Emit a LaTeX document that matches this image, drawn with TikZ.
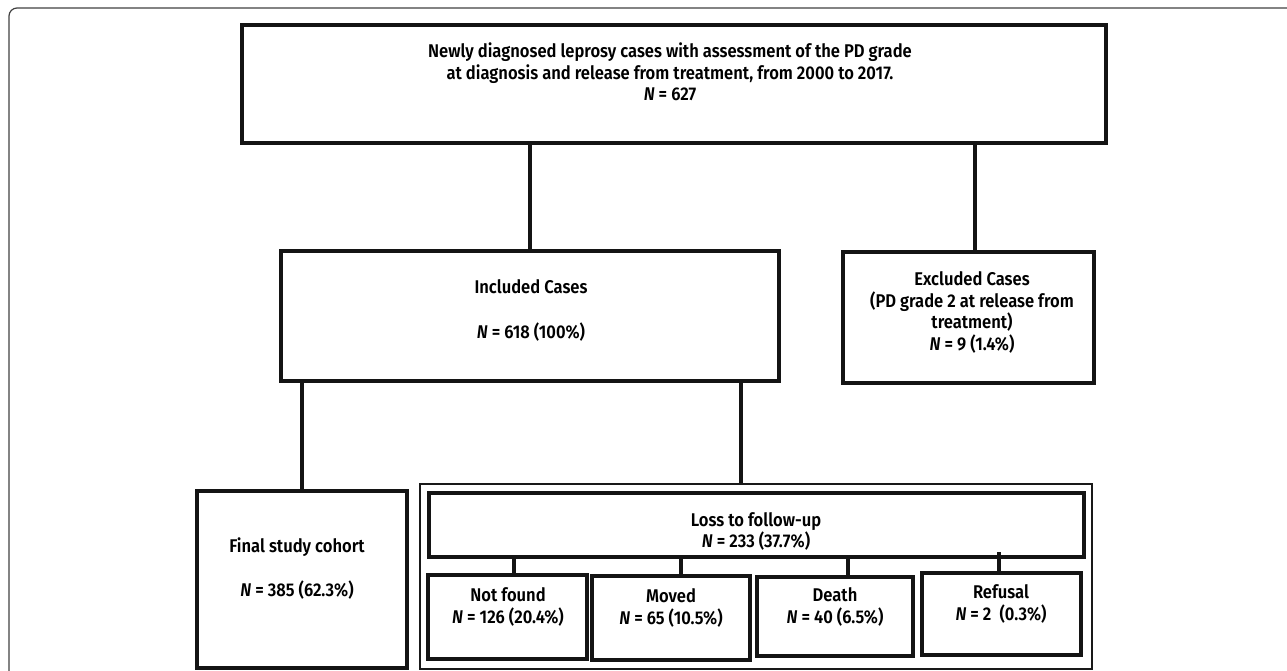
\documentclass[tikz,border=0pt]{standalone}
\usepackage{fontspec}
\setmainfont{Fira Sans}[UprightFont=* SemiBold, ItalicFont=* SemiBold Italic, BoldFont=* Bold, FakeStretch=0.9]
\begin{document}
\begin{tikzpicture}[x=1bp,y=-1bp]
\tikzset{
  box/.style={draw=black!92, line width=4bp, rectangle, inner sep=0pt},
  frame/.style={draw=black!90, line width=2.5bp, rectangle, inner sep=0pt},
  conn/.style={draw=black!92, line width=4bp},
  txt/.style={align=center, font=\fontsize{18.4bp}{21.6bp}\selectfont, inner sep=0pt}
}
\useasboundingbox (0,0) rectangle (1287,671);
\draw[black!75, line width=1.2bp, rounded corners=8bp] (9,671) -- (9,8) -- (1287,8);

% boxes
\node[box, minimum width=864bp, minimum height=118bp] (top) at (674,84) {};
\node[box, minimum width=498bp, minimum height=130bp] (incl) at (530,316) {};
\node[box, minimum width=251bp, minimum height=131bp] (excl) at (968.5,317.5) {};
\node[box, minimum width=210bp, minimum height=177bp] (final) at (302,579.5) {};
\node[frame, minimum width=672bp, minimum height=185bp] (ltfframe) at (756,576.5) {};
\node[box, minimum width=655bp, minimum height=64bp] (ltf) at (756.5,525) {};
\node[box, minimum width=159bp, minimum height=84bp] (nf) at (507.5,617) {};
\node[box, minimum width=158bp, minimum height=84bp] (mv) at (671,618) {};
\node[box, minimum width=156bp, minimum height=79bp] (de) at (835,616.5) {};
\node[box, minimum width=159bp, minimum height=82bp] (rf) at (1001.5,614) {};

% texts
\node[txt] (ttop) at (670,72) {Newly diagnosed leprosy cases with assessment of the PD grade\\at diagnosis and release from treatment, from 2000 to 2017.\\\textit{N} = 627};
\node[txt] (tincl1) at (531,287) {Included Cases};
\node[txt] (tincl2) at (531,332) {\textit{N} = 618 (100\%)};
\node[txt] (texcl) at (972,312.5) {Excluded Cases\\(PD grade 2 at release from\\treatment)\\\textit{N} = 9 (1.4\%)};
\node[txt] (tfinal1) at (297,547) {Final study cohort};
\node[txt] (tfinal2) at (297,590) {\textit{N} = 385 (62.3\%)};
\node[txt] (tltf) at (756,531.5) {Loss to follow-up\\\textit{N} = 233 (37.7\%)};
\node[txt] (tnf) at (508,607) {Not found\\\textit{N} = 126 (20.4\%)};
\node[txt] (tmv) at (671,608) {Moved\\\textit{N} = 65 (10.5\%)};
\node[txt] (tde) at (835,607) {Death\\\textit{N} = 40 (6.5\%)};
\node[txt] (trf) at (1001,604) {Refusal\\\textit{N} = 2\ \ (0.3\%)};

% connector x positions
\coordinate (xe) at (975,0);
\coordinate (xl) at (741,0);
\coordinate (x1) at (514,0);
\coordinate (x2) at (681,0);
\coordinate (x3) at (848,0);
\coordinate (x4) at (999,552);
\coordinate (x4e) at (999,571);

\draw[conn] (top.south -| incl.north) -- (incl.north);
\draw[conn] (top.south -| xe) -- (excl.north -| xe);
\draw[conn] (incl.south -| final.north) -- (final.north);
\draw[conn] (incl.south -| xl) -- (ltfframe.north -| xl);
\draw[conn] (ltf.south -| x1) -- (nf.north -| x1);
\draw[conn] (ltf.south -| x2) -- (mv.north -| x2);
\draw[conn] (ltf.south -| x3) -- (de.north -| x3);
\draw[conn] (x4) -- (x4e);
\end{tikzpicture}
\end{document}
